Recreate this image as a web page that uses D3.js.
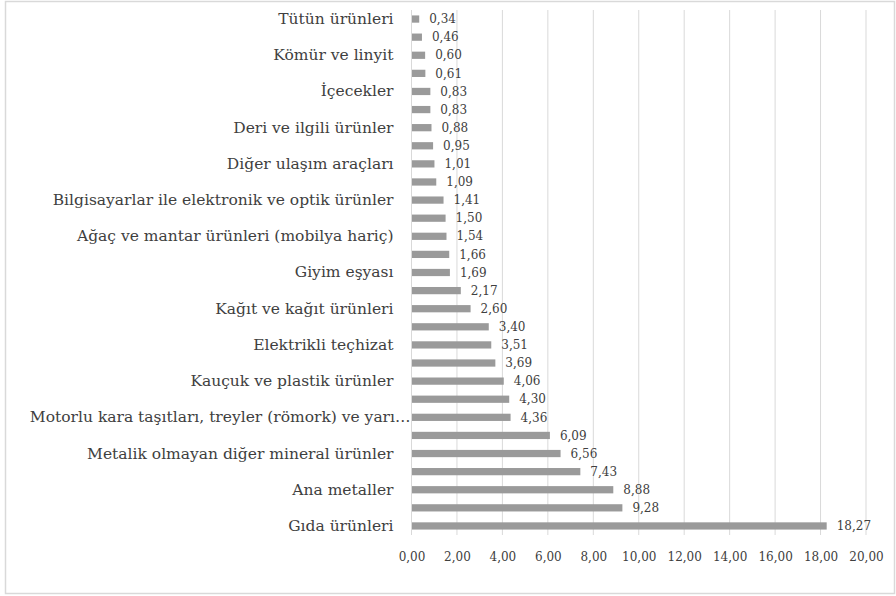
<!DOCTYPE html>
<html>
<head>
<meta charset="utf-8">
<script src="https://cdn.jsdelivr.net/npm/d3@7"></script>
<style>
  html, body { margin: 0; padding: 0; background: #fff; }
  svg { display: block; }
  text { font-family: "DejaVu Serif", serif; fill: #404040; }
</style>
</head>
<body>
<svg id="chart" width="896" height="596"></svg>
<script>
// Sector labels, top to bottom; every other one is shown on the axis
const categories = [
  "Tütün ürünleri", "", "Kömür ve linyit", "", "İçecekler", "",
  "Deri ve ilgili ürünler", "", "Diğer ulaşım araçları", "",
  "Bilgisayarlar ile elektronik ve optik ürünler", "",
  "Ağaç ve mantar ürünleri (mobilya hariç)", "", "Giyim eşyası", "",
  "Kağıt ve kağıt ürünleri", "", "Elektrikli teçhizat", "",
  "Kauçuk ve plastik ürünler", "",
  "Motorlu kara taşıtları, treyler (römork) ve yarı treylerler", "",
  "Metalik olmayan diğer mineral ürünler", "", "Ana metaller", "",
  "Gıda ürünleri"
];
const values = [
  0.34, 0.46, 0.60, 0.61, 0.83, 0.83, 0.88, 0.95, 1.01, 1.09,
  1.41, 1.50, 1.54, 1.66, 1.69, 2.17, 2.60, 3.40, 3.51, 3.69,
  4.06, 4.30, 4.36, 6.09, 6.56, 7.43, 8.88, 9.28, 18.27
];
const xTicks = [0, 2, 4, 6, 8, 10, 12, 14, 16, 18, 20];

(function () {
  const fmt = v => d3.format(".2f")(v).replace(".", ",");
  const svg = d3.select("#chart");
  const serif = '"DejaVu Serif", serif';

  // outer frame
  svg.append("rect")
    .attr("x", 5.5).attr("y", 1.5).attr("width", 889).attr("height", 592)
    .attr("fill", "#fff").attr("stroke", "#d9d9d9").attr("stroke-width", 1.5);

  const plotLeft = 411.5, plotRight = 866, plotTop = 10, plotBottom = 535;

  const x = d3.scaleLinear().domain([0, 20]).range([plotLeft, plotRight]);
  const y = d3.scaleBand().domain(d3.range(values.length))
    .range([plotTop, plotBottom]).paddingInner(0.6).paddingOuter(0.3);

  // vertical gridlines
  svg.append("g").selectAll("line").data(xTicks.slice(1)).join("line")
    .attr("x1", d => x(d)).attr("x2", d => x(d))
    .attr("y1", plotTop).attr("y2", plotBottom)
    .attr("stroke", "#d9d9d9").attr("stroke-width", 1);

  // bars
  svg.append("g").selectAll("rect").data(values).join("rect")
    .attr("x", x(0))
    .attr("y", (d, i) => y(i))
    .attr("width", d => x(d) - x(0))
    .attr("height", y.bandwidth())
    .attr("fill", "#9a9a9a");

  // value axis line at zero
  svg.append("line")
    .attr("x1", x(0)).attr("x2", x(0)).attr("y1", plotTop).attr("y2", plotBottom)
    .attr("stroke", "#d9d9d9").attr("stroke-width", 1);

  // value labels
  svg.append("g").selectAll("text").data(values).join("text")
    .attr("x", d => x(d) + 10)
    .attr("y", (d, i) => y(i) + y.bandwidth() / 2)
    .attr("dy", "0.35em")
    .attr("font-size", 12)
    .style("font-family", serif)
    .text(d => fmt(d));

  // category axis
  const yAxis = d3.axisLeft(y)
    .tickValues(d3.range(0, values.length, 2))
    .tickSize(0).tickPadding(18)
    .tickFormat(i => categories[i]);
  const gy = svg.append("g").attr("transform", `translate(${x(0)},0)`).call(yAxis);
  gy.select(".domain").remove();
  gy.selectAll("text").attr("font-size", 15.5).attr("fill", "#262626")
    .style("font-family", serif);

  // shorten long labels with an ellipsis; a shortened label runs up to the axis
  const maxW = x(0) - 28;
  gy.selectAll("text").each(function () {
    const t = d3.select(this);
    let s = t.text();
    if (this.getComputedTextLength() <= maxW) return;
    while (s.length && this.getComputedTextLength() > maxW) {
      s = s.slice(0, -1);
      t.text(s.trimEnd() + "…");
    }
    t.attr("x", -1);
  });

  // value axis
  const xAxis = d3.axisBottom(x).tickValues(xTicks).tickSize(0).tickPadding(17).tickFormat(fmt);
  const gx = svg.append("g").attr("transform", `translate(0,${plotBottom})`).call(xAxis);
  gx.select(".domain").remove();
  gx.selectAll("text").attr("font-size", 12).attr("fill", "#404040")
    .style("font-family", serif);
})();
</script>
</body>
</html>
